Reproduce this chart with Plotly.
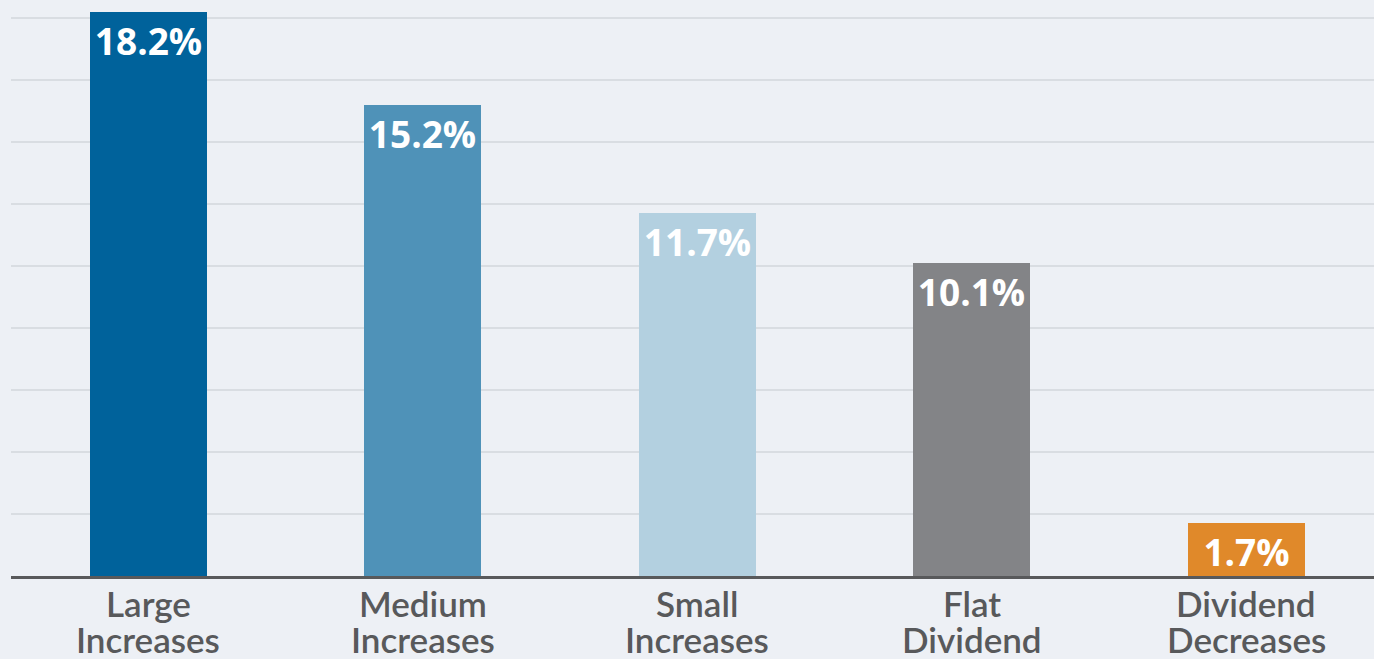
import plotly.graph_objects as go

label_line1 = ["Large", "Medium", "Small", "Flat", "Dividend"]
label_line2 = ["Increases", "Increases", "Increases", "Dividend", "Decreases"]
returns_pct = [18.2, 15.2, 11.7, 10.1, 1.7]
bar_colors = ["#00629B", "#4F92B8", "#B3D0E0", "#838487", "#E0892A"]

W, H = 1374, 659
left, bottom = 11, 83
plot_w = W - left
px_per_cat = 274.5
plot_h = H - bottom
px_per_pct = 31.0

xs = list(range(len(returns_pct)))

fig = go.Figure(go.Bar(
    x=xs,
    y=returns_pct,
    marker=dict(color=bar_colors, line=dict(width=0)),
    width=0.426,
    text=[f"{v:.1f}%" for v in returns_pct],
    textposition="inside",
    insidetextanchor="end",
    textangle=0,
    textfont=dict(family="Open Sans", size=37, color="white", weight="bold"),
    cliponaxis=False,
))

# two-line category labels under the axis, with tight leading
label_font = dict(family="Lato", size=35, color="#58595B", weight=600)
for i in xs:
    for line, shift in ((label_line1[i], -27), (label_line2[i], -63)):
        fig.add_annotation(x=i, xref="x", y=0, yref="paper",
                           text=line, showarrow=False,
                           xanchor="center", yanchor="middle",
                           yshift=shift, font=label_font)

fig.update_layout(
    width=W, height=H,
    margin=dict(l=left, r=0, t=0, b=bottom),
    paper_bgcolor="#EDF0F5",
    plot_bgcolor="#EDF0F5",
    showlegend=False,
    bargap=0,
    uniformtext=dict(minsize=37, mode="show"),
)
fig.update_xaxes(
    range=[-0.5, -0.5 + plot_w / px_per_cat],
    automargin=False,
    showticklabels=False,
    showgrid=False,
    zeroline=False,
    showline=True, linecolor="#58595B", linewidth=3,
    ticks="",
)
fig.update_yaxes(
    range=[0, plot_h / px_per_pct],
    automargin=False,
    tick0=0, dtick=2,
    showgrid=True, gridcolor="#D9DDE2", gridwidth=1.5,
    zeroline=False,
    showticklabels=False,
    ticks="",
)

fig.write_html("out.html")
